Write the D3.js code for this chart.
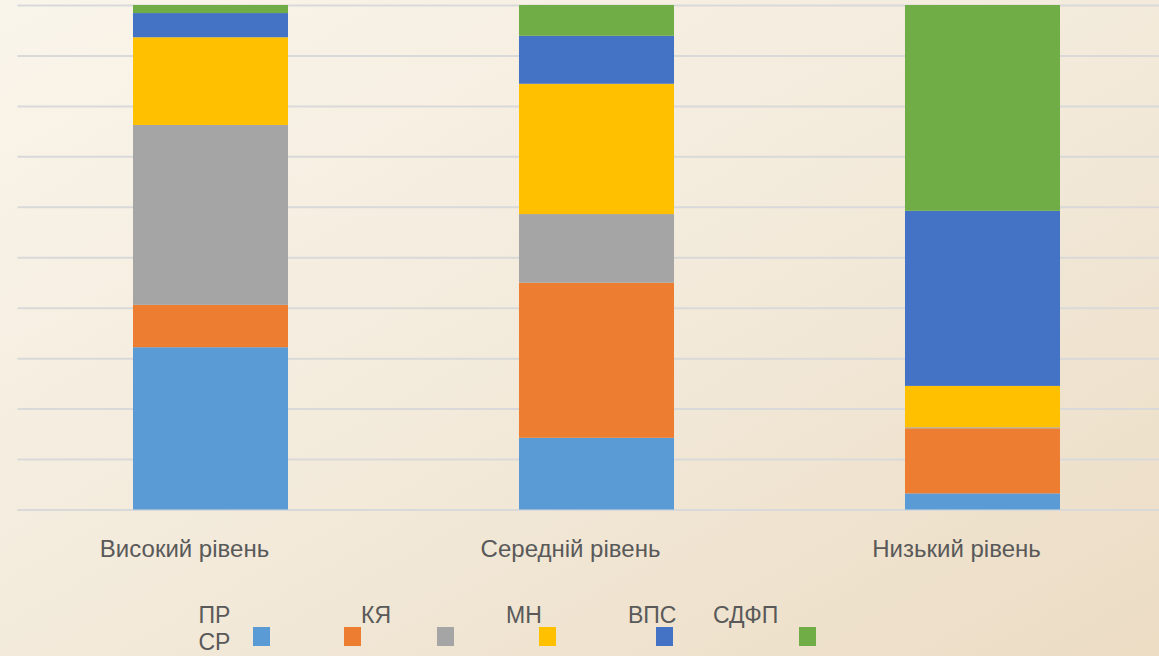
<!DOCTYPE html>
<html>
<head>
<meta charset="utf-8">
<script src="https://cdn.jsdelivr.net/npm/d3@7"></script>
<style>
  html, body { margin: 0; padding: 0; overflow: hidden; }
  body { width: 1159px; height: 656px; }
  text { font-family: "Liberation Sans", Arial, sans-serif; }
</style>
</head>
<body>
<div id="chart"></div>
<script>
// categories (x axis)
const categories = ["Високий рівень", "Середній рівень", "Низький рівень"];

// series names, bottom to top
const seriesNames = ["ПР", "СР", "КЯ", "МН", "ВПС", "СДФП"];
const seriesColors = ["#5B9BD5", "#ED7D31", "#A5A5A5", "#FFC000", "#4472C4", "#70AD47"];

// values (%) per series, one per category
const valПР   = [32.2, 14.2, 3.2];
const valСР   = [8.4, 30.7, 12.9];
const valКЯ   = [35.7, 13.6, 0.2];
const valМН   = [17.4, 25.8, 8.2];
const valВПС  = [4.8, 9.5, 34.7];
const valСДФП = [1.6, 6.1, 40.8];

const seriesValues = [valПР, valСР, valКЯ, valМН, valВПС, valСДФП];

// ---------- layout ----------
const W = 1159, H = 656;
const plot = { left: 17.5, top: 5, bottom: 509.5, right: 1175.5 };

const svg = d3.select("#chart").append("svg")
  .attr("width", W)
  .attr("height", H);

// background gradient
const defs = svg.append("defs");
const grad = defs.append("linearGradient")
  .attr("id", "bg")
  .attr("x1", "0%").attr("y1", "0%")
  .attr("x2", "100%").attr("y2", "100%");
grad.append("stop").attr("offset", "0%").attr("stop-color", "#faf5eb");
grad.append("stop").attr("offset", "55%").attr("stop-color", "#f2e9d9");
grad.append("stop").attr("offset", "100%").attr("stop-color", "#ecdcc4");

svg.append("rect")
  .attr("width", W).attr("height", H)
  .attr("fill", "url(#bg)");

//building table for stack
const table = categories.map((c, i) => {
  const row = { category: c };
  seriesNames.forEach((s, j) => { row[s] = seriesValues[j][i]; });
  return row;
});

const stacked = d3.stack()
  .keys(seriesNames)
  .offset(d3.stackOffsetExpand)(table);

const x = d3.scaleBand()
  .domain(categories)
  .range([plot.left, plot.right])
  .paddingInner(0)
  .paddingOuter(0);

const barW = x.bandwidth() * 0.4016;

const y = d3.scaleLinear()
  .domain([0, 1])
  .range([plot.bottom, plot.top]);

// gridlines
const grid = svg.append("g")
  .attr("transform", `translate(${plot.left},0)`)
  .call(d3.axisLeft(y).ticks(10).tickSize(-(W + 20 - plot.left)).tickFormat(""));
grid.select(".domain").remove();
grid.selectAll(".tick line")
  .attr("stroke", "#d9d9d9")
  .attr("stroke-width", 2);

// bars
svg.append("g")
  .selectAll("g")
  .data(stacked)
  .enter()
  .append("g")
  .attr("fill", (d, i) => seriesColors[i])
  .selectAll("rect")
  .data(d => d)
  .enter()
  .append("rect")
  .attr("x", d => x(d.data.category) + (x.bandwidth() - barW) / 2)
  .attr("y", d => y(d[1]))
  .attr("width", barW)
  .attr("height", d => Math.max(0, y(d[0]) - y(d[1])));

// category labels (sit a little left of the bar centre in the source)
svg.append("g")
  .selectAll("text")
  .data(categories)
  .enter()
  .append("text")
  .attr("x", d => x(d) + x.bandwidth() / 2 - 26)
  .attr("y", 556.5)
  .attr("text-anchor", "middle")
  .style("font-size", "24px")
  .style("fill", "#595959")
  .text(d => d);

// legend (labels and swatches sit apart, as in the source)
const legendSwatchX = [253, 344, 437, 539, 656, 799];
const legendLabelPos = [[198.5, 623], [198.5, 650], [361, 623], [506, 623], [628, 623], [713, 623]];

const legend = svg.append("g");
legend.selectAll("rect")
  .data(seriesNames)
  .enter()
  .append("rect")
  .attr("x", (d, i) => legendSwatchX[i])
  .attr("y", 627)
  .attr("width", 17)
  .attr("height", 19)
  .attr("fill", (d, i) => seriesColors[i]);

legend.selectAll("text")
  .data(seriesNames)
  .enter()
  .append("text")
  .attr("x", (d, i) => legendLabelPos[i][0])
  .attr("y", (d, i) => legendLabelPos[i][1])
  .style("font-size", "23px")
  .style("fill", "#595959")
  .text(d => d);
</script>
</body>
</html>
